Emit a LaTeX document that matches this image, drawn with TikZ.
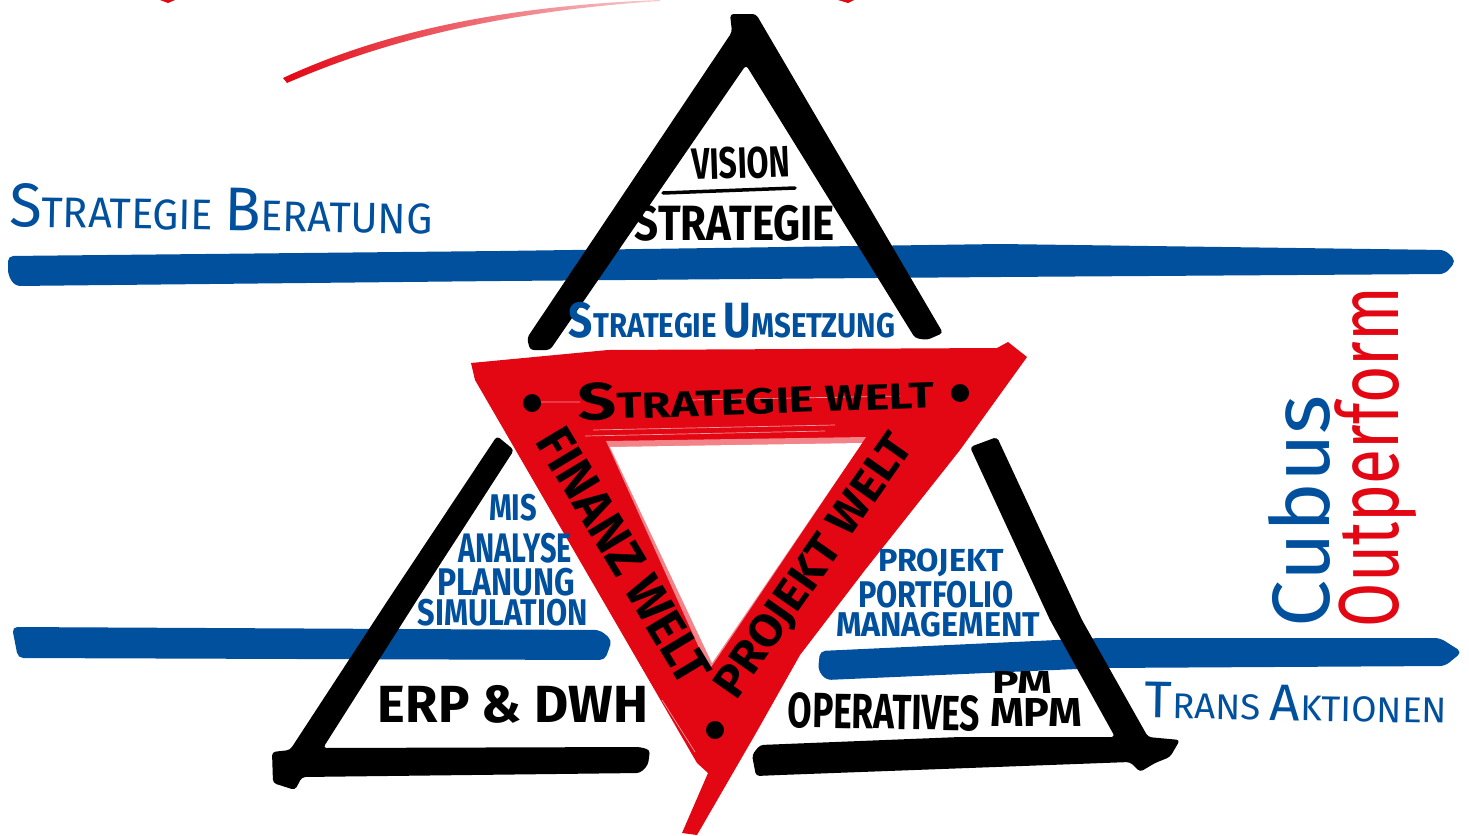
\documentclass[tikz,border=0pt]{standalone}
\usepackage{graphicx}
\usepackage{fontspec}
\setmainfont{Liberation Sans}
\newfontfamily\penfont{Fira Sans}
\usetikzlibrary{positioning}

\definecolor{penred}{HTML}{E30613}
\definecolor{penblue}{HTML}{00509E}
\newlength\pxu
\setlength\pxu{0.02cm}
% text forced into a box of w x h pixels
\newcommand{\penb}[3]{\resizebox*{#1\pxu}{#2\pxu}{\penfont\bfseries #3}}
\newcommand{\penn}[3]{\resizebox*{#1\pxu}{#2\pxu}{\penfont #3}}
\newcommand{\bg}[1]{{\Large #1}}

\begin{document}
\begin{tikzpicture}[x=0.02cm, y=-0.02cm]
	\tikzstyle{Ink}		= [black, inner sep=0pt]
	\tikzstyle{Blue}	= [penblue, inner sep=0pt]
	\tikzstyle{Red}		= [penred, inner sep=0pt]
	\tikzstyle{Stroke}	= [fill=black, rounded corners=2pt]
	\tikzstyle{Bar}		= [fill=penblue, rounded corners=3pt]
	\tikzstyle{Dot}		= [circle, fill=black, minimum size=0.36cm, inner sep=0pt]

	\useasboundingbox (0,0) rectangle (1469,835);
	\fill[white] (0,0) rectangle (1469,835);

	% red arc and its cut-off ends
	\shade[left color=penred, right color=penred!20] (283,78) .. controls (380,33) and (500,6) .. (660,0) -- (660,1) .. controls (510,11) and (390,38) .. (287,83) -- cycle;
	\fill[penred] (160,0) -- (175,0) -- (168,3) -- cycle;
	\fill[penred] (838,0) -- (854,0) -- (848,3) -- cycle;

	% blue bars
	\path[Bar] (8,256) -- (500,251) -- (1000,244) -- (1445,250) -- (1456,261) -- (1445,274) -- (1000,277) -- (500,281) -- (15,286) -- (8,275) -- cycle;
	\path[Bar] (12,627) -- (600,630) -- (612,640) -- (605,660) -- (300,659) -- (18,658) -- cycle;
	\path[Bar] (820,651) -- (1100,638) -- (1440,638) -- (1462,652) -- (1445,666) -- (1100,668) -- (826,680) -- (818,670) -- cycle;

	% black triangles
	\path[Stroke] (527,338) -- (732,32) -- (730,14) -- (756,14) -- (943,333) -- (927,340) -- (915,338) -- (746,65) -- (550,350) -- (530,350) -- cycle;
	\path[Stroke] (497,436) -- (514,450) -- (417,600) -- (323,748) -- (640,747) -- (650,750) -- (648,765) -- (640,773) -- (302,777) -- (295,790) -- (273,783) -- (272,752) -- (290,750) -- (388,600) -- cycle;
	\path[Stroke] (970,447) -- (997,437) -- (1082,620) -- (1148,737) -- (1180,740) -- (1170,757) -- (1155,763) -- (1140,772) -- (1130,762) -- (780,775) -- (756,776) -- (752,755) -- (760,745) -- (960,737) -- (1115,737) -- (1050,620) -- cycle;

	% red triangle
	\fill[penred] (471,363) -- (608,350) -- (997,348) -- (1008,342) -- (1027,357) -- (960,450) -- (865,570) -- (800,655) -- (756,733) -- (697,835) -- (682,833) -- (708,773) -- (697,763) -- (475,380) -- cycle;
	\fill[penred!50] (606,441) -- (866,437) -- (716,660) -- (709,670) -- cycle;
	\fill[white] (610,447) -- (862,443) -- (798,537) -- (712,663) -- cycle;
	\draw[white, opacity=0.6, line width=0.4pt] (593,430) -- (835,425) (585,436) -- (825,431) (525,402) -- (580,402) (690,400) -- (900,396) (662,700) -- (695,752);

	\node (dotl) at (532,403) [Dot]{};
	\node (dotr) at (960,393) [Dot]{};
	\node (dotb) at (715,730) [Dot]{};

	% underline of the top label
	\draw[black, line width=0.07cm, line cap=round] (663,193) -- (795,188);

	% labels
	\node (beratung) at (221,209) [Blue, rotate=-1]{\penn{423}{44}{\bg{S}TRATEGIE \bg{B}ERATUNG}};
	\node (vision) at (741,163) [Ink, rotate=2]{\penb{98}{32}{VISION}};
	\node (strategie) at (735,223) [Ink]{\penb{200}{36}{STRATEGIE}};
	\node (umsetzung) at (732,320) [Blue]{\penb{326}{36}{\bg{S}TRATEGIE \bg{U}MSETZUNG}};
	\node (sworld) at (756,396) [Ink, rotate=2]{\penb{356}{38}{\bg{S}TRATEGIE WELT}};
	\node (fworld) at (624,556) [Ink, rotate=-59]{\penb{288}{36}{FINANZ WELT}};
	\node (pworld) at (815,567) [Ink, rotate=55]{\penb{310}{40}{PROJEKT WELT}};
	\node (mis) at (513,508) [Blue]{\penb{48}{27}{MIS}};
	\node (analyse) at (515,548) [Blue]{\penb{114}{30}{ANALYSE}};
	\node (planung) at (506,582) [Blue]{\penb{138}{28}{PLANUNG}};
	\node (simulation) at (503,613) [Blue]{\penb{170}{27}{SIMULATION}};
	\node (erp) at (513,704) [Ink]{\penb{270}{38}{ERP \& DWH}};
	\node (projekt) at (941,563) [Blue]{\penb{126}{28}{PROJEKT}};
	\node (portfolio) at (936,595) [Blue]{\penb{156}{27}{PORTFOLIO}};
	\node (management) at (938,625) [Blue]{\penb{204}{25}{MANAGEMENT}};
	\node (operatives) at (884,712) [Ink, rotate=-1]{\penb{192}{36}{OPERATIVES}};
	\node (pm) at (1022,682) [Ink]{\penb{60}{22}{PM}};
	\node (mpm) at (1036,712) [Ink]{\penb{92}{28}{MPM}};
	\node (transaktionen) at (1296,703) [Blue, rotate=-1]{\penn{302}{36}{\bg{T}RANS \bg{A}KTIONEN}};
	\node (cubus) at (1299,511) [Blue, rotate=90]{\penn{232}{62}{Cubus}};
	\node (outperform) at (1376,457) [Red, rotate=90]{\penn{340}{82}{Outperform}};
\end{tikzpicture}
\end{document}
